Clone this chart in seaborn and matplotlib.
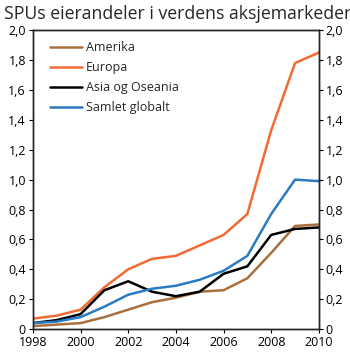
import matplotlib
matplotlib.use("Agg")
import matplotlib.pyplot as plt
import seaborn as sns
import pandas as pd
from matplotlib.ticker import FuncFormatter

years = list(range(1998, 2011))
amerika = [0.02, 0.03, 0.04, 0.08, 0.13, 0.18, 0.21, 0.25, 0.26, 0.34, 0.51, 0.69, 0.70]
europa = [0.07, 0.09, 0.13, 0.28, 0.40, 0.47, 0.49, 0.56, 0.63, 0.77, 1.33, 1.78, 1.85]
asia = [0.04, 0.06, 0.10, 0.26, 0.32, 0.25, 0.22, 0.25, 0.37, 0.42, 0.63, 0.67, 0.68]
samlet = [0.04, 0.05, 0.08, 0.15, 0.23, 0.27, 0.29, 0.33, 0.39, 0.49, 0.77, 1.00, 0.99]
series_names = ["Amerika", "Europa", "Asia og Oseania", "Samlet globalt"]
colors = ["#A8703C", "#F26B34", "#000000", "#2A7AC4"]
title = "SPUs eierandeler i verdens aksjemarkeder"

df = pd.DataFrame({"År": years * 4,
                   "Verdi": amerika + europa + asia + samlet,
                   "Serie": sum([[n] * len(years) for n in series_names], [])})

sns.set_style("white")
plt.rcParams["font.family"] = ["Open Sans", "DejaVu Sans"]

fig = plt.figure(figsize=(3.5, 3.55), dpi=100)
ax = fig.add_axes([0.094, 0.073, 0.817, 0.842])
sns.lineplot(data=df, x="År", y="Verdi", hue="Serie", palette=colors,
             hue_order=series_names, linewidth=1.8, ax=ax)

ax.set_xlim(1998, 2010)
ax.set_ylim(0, 2.0)
ax.set_xticks(range(1998, 2011, 2))
yt = [0, 0.2, 0.4, 0.6, 0.8, 1.0, 1.2, 1.4, 1.6, 1.8, 2.0]
fmt = FuncFormatter(lambda v, p: "0" if abs(v) < 1e-9 else f"{v:.1f}".replace(".", ","))
ax.set_yticks(yt)
ax.yaxis.set_major_formatter(fmt)
ax.set_xlabel("")
ax.set_ylabel("")
for s in ax.spines.values():
    s.set_visible(True)
    s.set_color("black")
    s.set_linewidth(1.0)
ax.tick_params(axis="both", direction="out", length=3, width=0.8, labelsize=9, pad=2,
               colors="black")
ax.tick_params(axis="y", left=True)
ax.tick_params(axis="x", bottom=True)

ax2 = ax.twinx()
ax2.set_ylim(0, 2.0)
ax2.set_yticks(yt)
ax2.yaxis.set_major_formatter(fmt)
ax2.tick_params(axis="y", direction="out", length=3, width=0.8, labelsize=9, pad=2,
                right=True, colors="black")
for s in ax2.spines.values():
    s.set_linewidth(1.0)

leg = ax.legend(loc="upper left", frameon=False, fontsize=9, handlelength=2.6,
                handletextpad=0.3, labelspacing=0.55, bbox_to_anchor=(0.02, 1.0))
for line in leg.get_lines():
    line.set_linewidth(1.8)

fig.text(0.012, 0.985, title, fontsize=12.7, ha="left", va="top")
fig.savefig("out.png", dpi=100)
